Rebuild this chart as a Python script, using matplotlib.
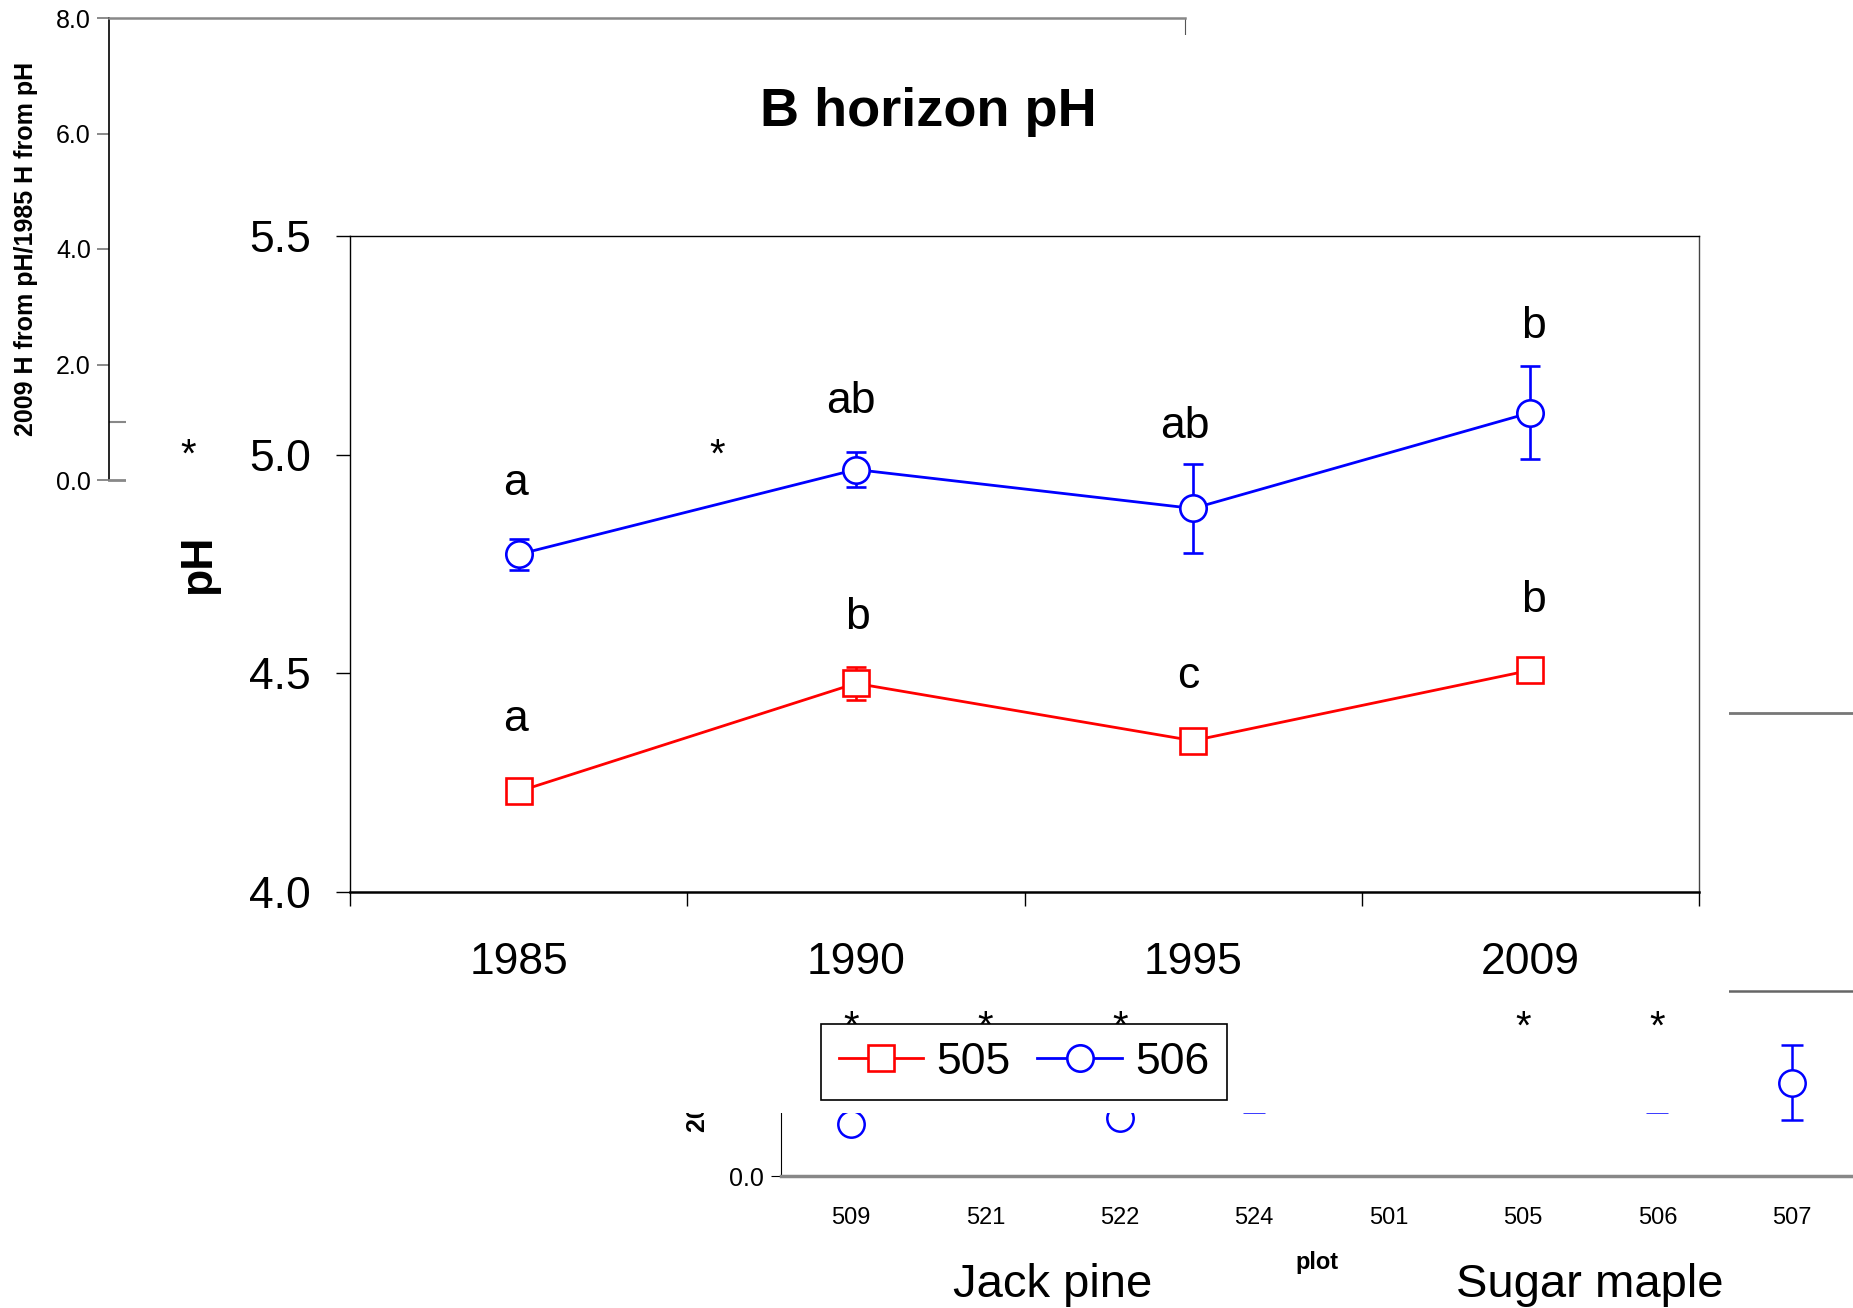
import numpy as np
import matplotlib
matplotlib.use("Agg")
import matplotlib.pyplot as plt
from matplotlib.patches import Rectangle
from matplotlib.lines import Line2D

plt.rcParams['font.family'] = ['Liberation Sans', 'DejaVu Sans']

# ---------------- main chart data ----------------
years = ["1985", "1990", "1995", "2009"]
series_names = ["505", "506"]
ph_505 = [4.23, 4.477, 4.346, 4.507]
err_505 = [0.02, 0.038, 0.02, 0.02]
ph_506 = [4.772, 4.966, 4.877, 5.096]
err_506 = [0.036, 0.040, 0.101, 0.107]
letters_505 = ["a", "b", "c", "b"]
letters_506 = ["a", "ab", "ab", "b"]
letter_y_505 = [4.395, 4.628, 4.493, 4.667]
letter_y_506 = [4.934, 5.122, 5.064, 5.294]
yticks_main = [4.0, 4.5, 5.0, 5.5]

# ---------------- background remnant panels ----------------
bg1_yticks = [0.0, 2.0, 4.0, 6.0, 8.0]
bg_ylabel = "2009 H from pH/1985 H from pH"
plots = ["509", "521", "522", "524", "501", "505", "506", "507"]
plot_vals = [0.90, np.nan, 1.0, 1.7, np.nan, np.nan, 1.7, 1.61]
plot_errs = [0.0, 0.0, 0.0, 0.6, 0.0, 0.0, 0.6, 0.65]
plot_sig = ["*", "*", "*", "", "", "*", "*", ""]
groups = ["Jack pine", "Sugar maple"]

W, H = 1853, 1308
fig = plt.figure(figsize=(W / 100, H / 100), dpi=100)


def fx(px):
    return px / W


def fy(py):
    return 1 - py / H


# background panel 1 (top-left)
bg1 = fig.add_axes([fx(109), fy(480), fx(1185 - 109), (480 - 18) / H], zorder=0)
bg1.set_ylim(0, 8)
bg1.set_xlim(0, 1)
bg1.set_yticks(bg1_yticks)
bg1.set_yticklabels([f"{v:.1f}" for v in bg1_yticks], fontsize=18)
bg1.set_xticks([])
bg1.tick_params(axis='y', direction='out', length=9, width=1.2, color='#777777', pad=4)
bg1.spines['top'].set_color('#888888')
bg1.spines['top'].set_linewidth(1.8)
bg1.spines['bottom'].set_color('#888888')
bg1.spines['bottom'].set_linewidth(2)
bg1.spines['left'].set_linewidth(1.2)
bg1.spines['right'].set_bounds(7.65, 8)
bg1.spines['right'].set_color('#555555')
bg1.axhline(1.0, color='#888888', lw=1.5)
bg1.set_ylabel(bg_ylabel, fontsize=18, fontweight='bold')
bg1.yaxis.set_label_coords(-0.066, 0.5)

# background panel 2 (bottom-right)
bg2 = fig.add_axes([fx(781), fy(1176), fx(W - 781), (1176 - 713) / H], zorder=0)
xp = np.arange(len(plots))
bg2.set_xlim(-0.521, 7.455)
bg2.set_ylim(0, 8)
bg2.set_yticks([0.0])
bg2.set_yticklabels(["0.0"], fontsize=18)
bg2.set_xticks(xp)
bg2.set_xticklabels(plots, fontsize=17)
bg2.tick_params(axis='x', length=0, pad=22)
bg2.tick_params(axis='y', length=7, pad=5)
bg2.spines['bottom'].set_color('#888888')
bg2.spines['bottom'].set_linewidth(2.5)
bg2.spines['top'].set_color('#777777')
bg2.spines['top'].set_linewidth(2)
bg2.spines['right'].set_visible(False)
bg2.axhline(3.2, color='#666666', lw=1.8)
bg2.errorbar(xp, plot_vals, yerr=plot_errs, fmt='o', color='blue', mfc='white',
             mec='blue', ms=19, mew=1.8, capsize=8, elinewidth=1.8, capthick=1.8)
bg2.set_ylabel(bg_ylabel, fontsize=18, fontweight='bold')
bg2.yaxis.set_label_coords(-0.066, 0.5)
bg2.set_xlabel("plot", fontsize=17, fontweight='bold', labelpad=16)
for gi, g in enumerate(groups):
    fig.text(1.5 + 4 * gi, -1.88, g, transform=bg2.transData, fontsize=34,
             ha='center', va='center', zorder=1.5)

# white cover of the main chart page
fig.add_artist(Rectangle((fx(126), fy(1113)), fx(1729 - 126), (1113 - 35) / H,
                         transform=fig.transFigure, facecolor='white',
                         edgecolor='none', zorder=1))

# significance asterisks of remnant panels
for i, s in enumerate(plot_sig):
    if s:
        fig.text(xp[i], 2.57, s, transform=bg2.transData, fontsize=29,
                 ha='center', va='center', zorder=1.5)
fig.text(fx(188), fy(456), "*", fontsize=29, ha='center', va='center', zorder=1.5)
fig.text(fx(717), fy(456), "*", fontsize=29, ha='center', va='center', zorder=1.5)

# ---------------- main axes ----------------
ax = fig.add_axes([fx(350), fy(892), fx(1699 - 350), (892 - 236) / H], zorder=2)
ax.set_facecolor('none')
x = np.arange(len(years)) + 0.5
letter_dx_505 = [-0.01, 0.005, -0.015, 0.01]
letter_dx_506 = [-0.01, -0.015, -0.025, 0.01]
styles = [dict(color='red', marker='s'), dict(color='blue', marker='o')]
for vals, errs, st in [(ph_505, err_505, styles[0]), (ph_506, err_506, styles[1])]:
    ax.errorbar(x, vals, yerr=errs, color=st['color'], marker=st['marker'], ms=19,
                mfc='white', mec=st['color'], mew=1.9, lw=2.0, capsize=7,
                elinewidth=1.9, capthick=1.9)
for i in range(len(years)):
    ax.text(x[i] + letter_dx_505[i], letter_y_505[i], letters_505[i], fontsize=32,
            ha='center', va='center')
    ax.text(x[i] + letter_dx_506[i], letter_y_506[i], letters_506[i], fontsize=32,
            ha='center', va='center')

ax.set_xlim(0, 4)
ax.set_ylim(4.0, 5.5)
ax.set_yticks(yticks_main)
ax.set_yticklabels([f"{v:.1f}" for v in yticks_main], fontsize=32)
ax.set_xticks(np.arange(0, 5))
ax.set_xticklabels([])
ax.set_xticks(x, minor=True)
ax.set_xticklabels(years, minor=True, fontsize=32)
ax.tick_params(axis='x', which='major', direction='out', length=10, width=1)
ax.tick_params(axis='x', which='minor', length=0, pad=36)
ax.tick_params(axis='y', direction='out', length=10, width=1, pad=18)
for sp in ['top', 'right', 'left']:
    ax.spines[sp].set_linewidth(1.0)
ax.spines['right'].set_color('#444444')
ax.spines['bottom'].set_linewidth(1.8)
ax.set_ylabel("pH", fontsize=32, fontweight='bold')
ax.yaxis.set_label_coords(-0.097, 0.5)

handles = [Line2D([], [], color=st['color'], marker=st['marker'], ms=19, mfc='white',
                  mec=st['color'], mew=1.9, lw=2.0) for st in styles]
leg = ax.legend(handles, series_names, loc='center', ncol=2, fontsize=32,
                bbox_to_anchor=(fx(1024), fy(1062)), bbox_transform=fig.transFigure,
                frameon=True, fancybox=False, edgecolor='black', framealpha=1,
                handlelength=1.9, handletextpad=0.3, columnspacing=0.6,
                borderpad=0.4, borderaxespad=0)
leg.get_frame().set_linewidth(1.2)

fig.text(fx(928), fy(112), "B horizon pH", fontsize=39, fontweight='bold',
         ha='center', va='center', zorder=3)

fig.savefig("out.png", dpi=100)
